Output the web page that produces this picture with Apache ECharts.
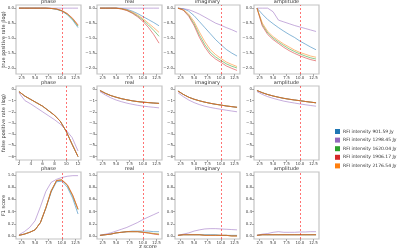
<!DOCTYPE html>
<html>
<head>
<meta charset="utf-8">
<style>
  html, body { margin: 0; padding: 0; background: #fff; }
  #chart { width: 400px; height: 251px; }
</style>
<script src="https://cdn.jsdelivr.net/npm/echarts@6/dist/echarts.min.js"></script>
</head>
<body>
<div id="chart"></div>
<script>
// z scores
const zScores = [2, 3, 4, 5, 6, 7, 8, 9, 10, 11, 12, 13];
const zScoresPhaseFpr = [2, 3, 4, 5, 6, 7, 8, 9, 10, 11, 12];

const seriesNames = ['RFI intensity 901.59 Jy', 'RFI intensity 1298.45 Jy', 'RFI intensity 1620.04 Jy',
  'RFI intensity 1906.17 Jy', 'RFI intensity 2176.54 Jy'];
const colors = ['#1f77b4', '#9467bd', '#2ca02c', '#d62728', '#ff7f0e'];
const panelTitles = ['phase', 'real', 'imaginary', 'amplitude'];
const rowLabels = ['true positive rate (log)', 'false positive rate (log)', 'F1 score'];

// tick labels
const zTicks = [2.5, 5, 7.5, 10, 12.5];
const zTicksPhaseFpr = [2, 4, 6, 8, 10, 12];
const tprTicks = [0, -0.5, -1, -1.5, -2];
const fprTicks = [0, -1, -2, -3, -4, -5, -6];
const f1Ticks = [0, 0.2, 0.4, 0.6, 0.8, 1.0];
const threshold = 10;

// true positive rate (log), series order = legend order
const tprPhase = [
  [0, 0, 0, 0, 0, 0, -0.01, -0.04, -0.1, -0.22, -0.4, -0.65],
  [0, 0, 0, 0, 0, 0, 0, 0, 0, 0, 0, 0],
  [0, 0, 0, 0, 0, 0, -0.01, -0.03, -0.09, -0.2, -0.37, -0.6],
  [0, 0, 0, 0, 0, 0, -0.01, -0.03, -0.08, -0.18, -0.34, -0.56],
  [0, 0, 0, 0, 0, 0, -0.01, -0.03, -0.09, -0.19, -0.35, -0.58]
];
const tprReal = [
  [0, 0, 0, 0, -0.01, -0.04, -0.1, -0.18, -0.28, -0.38, -0.48, -0.59],
  [0, 0, 0, 0, 0, 0, 0, 0, 0, 0, 0, 0],
  [0, 0, 0, 0, -0.02, -0.07, -0.15, -0.26, -0.39, -0.56, -0.74, -0.94],
  [0, 0, 0, 0, -0.03, -0.08, -0.17, -0.29, -0.44, -0.64, -0.88, -1.17],
  [0, 0, 0, 0, -0.02, -0.06, -0.13, -0.23, -0.35, -0.5, -0.65, -0.81]
];
const tprImag = [
  [0, -0.02, -0.1, -0.25, -0.45, -0.65, -0.85, -1.05, -1.22, -1.38, -1.5, -1.6],
  [0, -0.02, -0.05, -0.12, -0.2, -0.3, -0.4, -0.5, -0.57, -0.65, -0.72, -0.8],
  [0, -0.06, -0.24, -0.52, -0.9, -1.22, -1.47, -1.63, -1.75, -1.86, -1.94, -2.0],
  [0, -0.07, -0.27, -0.58, -0.98, -1.3, -1.55, -1.7, -1.81, -1.93, -2.01, -2.08],
  [0, -0.05, -0.2, -0.45, -0.8, -1.12, -1.38, -1.55, -1.68, -1.8, -1.88, -1.95]
];
const tprAmp = [
  [0, -0.2, -0.38, -0.52, -0.65, -0.77, -0.88, -0.98, -1.1, -1.2, -1.3, -1.39],
  [0, 0, 0, -0.12, -0.4, -0.46, -0.52, -0.58, -0.63, -0.68, -0.73, -0.78],
  [0, -0.55, -0.83, -1.0, -1.13, -1.25, -1.36, -1.45, -1.53, -1.6, -1.66, -1.7],
  [0, -0.6, -0.88, -1.05, -1.18, -1.31, -1.42, -1.51, -1.59, -1.66, -1.72, -1.76],
  [0, -0.5, -0.78, -0.95, -1.08, -1.2, -1.3, -1.4, -1.48, -1.54, -1.6, -1.64]
];

// false positive rate (log)
const fprPhaseMain = [-0.2, -0.6, -0.9, -1.2, -1.5, -1.9, -2.3, -2.85, -3.75, -4.9, -6.0];
const fprPhasePurple = [-0.3, -1.0, -1.3, -1.65, -2.0, -2.35, -2.7, -3.1, -3.65, -4.3, -5.5];
const fprRealMain = [-0.1, -0.35, -0.55, -0.7, -0.83, -0.93, -1.02, -1.09, -1.14, -1.18, -1.22, -1.25];
const fprRealPurple = [-0.2, -0.5, -0.75, -0.95, -1.1, -1.23, -1.33, -1.42, -1.49, -1.55, -1.6, -1.65];
const fprImagMain = [-0.15, -0.45, -0.7, -0.88, -1.02, -1.14, -1.24, -1.33, -1.4, -1.48, -1.54, -1.6];
const fprImagPurple = [-0.3, -0.65, -0.95, -1.18, -1.36, -1.5, -1.61, -1.7, -1.78, -1.86, -1.93, -2.0];
const fprAmpMain = [-0.1, -0.3, -0.46, -0.59, -0.7, -0.8, -0.88, -0.95, -1.01, -1.08, -1.14, -1.2];
const fprAmpPurple = [-0.2, -0.45, -0.65, -0.8, -0.93, -1.05, -1.14, -1.22, -1.3, -1.37, -1.44, -1.5];

// F1 score
const f1Phase = [
  [0.01, 0.03, 0.06, 0.1, 0.22, 0.45, 0.72, 0.89, 0.9, 0.8, 0.62, 0.36],
  [0.02, 0.07, 0.14, 0.25, 0.48, 0.73, 0.88, 0.93, 0.96, 0.98, 0.99, 0.99],
  [0.01, 0.03, 0.06, 0.1, 0.22, 0.46, 0.74, 0.91, 0.92, 0.83, 0.66, 0.43],
  [0.01, 0.03, 0.06, 0.1, 0.22, 0.46, 0.74, 0.91, 0.92, 0.84, 0.67, 0.44],
  [0.01, 0.03, 0.06, 0.1, 0.22, 0.46, 0.74, 0.91, 0.92, 0.84, 0.67, 0.44]
];
const f1Real = [
  [0.01, 0.02, 0.03, 0.05, 0.06, 0.07, 0.08, 0.08, 0.08, 0.08, 0.07, 0.07],
  [0.01, 0.03, 0.05, 0.08, 0.11, 0.14, 0.18, 0.22, 0.27, 0.31, 0.35, 0.39],
  [0.01, 0.02, 0.03, 0.05, 0.06, 0.07, 0.07, 0.07, 0.06, 0.05, 0.04, 0.03],
  [0.01, 0.02, 0.03, 0.05, 0.06, 0.07, 0.07, 0.07, 0.06, 0.05, 0.03, 0.02],
  [0.01, 0.02, 0.03, 0.05, 0.06, 0.07, 0.07, 0.07, 0.06, 0.05, 0.04, 0.03]
];
const f1Imag = [
  [0.01, 0.02, 0.02, 0.02, 0.02, 0.02, 0.02, 0.02, 0.01, 0.01, 0.01, 0.01],
  [0.01, 0.03, 0.05, 0.08, 0.1, 0.115, 0.12, 0.12, 0.115, 0.11, 0.105, 0.1],
  [0.01, 0.02, 0.02, 0.02, 0.02, 0.01, 0.01, 0.01, 0.01, 0.01, 0.0, 0.0],
  [0.01, 0.02, 0.02, 0.02, 0.02, 0.01, 0.01, 0.01, 0.01, 0.01, 0.0, 0.0],
  [0.01, 0.02, 0.02, 0.02, 0.02, 0.01, 0.01, 0.01, 0.01, 0.01, 0.0, 0.0]
];
const f1Amp = [
  [0.01, 0.02, 0.02, 0.02, 0.02, 0.02, 0.02, 0.02, 0.02, 0.02, 0.02, 0.02],
  [0.01, 0.03, 0.04, 0.06, 0.07, 0.06, 0.06, 0.06, 0.065, 0.065, 0.07, 0.07],
  [0.01, 0.02, 0.02, 0.02, 0.02, 0.02, 0.02, 0.02, 0.02, 0.02, 0.02, 0.02],
  [0.01, 0.02, 0.02, 0.02, 0.02, 0.02, 0.02, 0.02, 0.02, 0.02, 0.02, 0.02],
  [0.01, 0.02, 0.02, 0.02, 0.02, 0.02, 0.02, 0.02, 0.02, 0.02, 0.02, 0.02]
];

const fprSet = (main, purple) => [main, purple, main, main, main];
const panels = [
  [tprPhase, tprReal, tprImag, tprAmp],
  [fprSet(fprPhaseMain, fprPhasePurple), fprSet(fprRealMain, fprRealPurple),
   fprSet(fprImagMain, fprImagPurple), fprSet(fprAmpMain, fprAmpPurple)],
  [f1Phase, f1Real, f1Imag, f1Amp]
];

const colLeft = [16, 97, 175, 254];
const colWidth = 65;
const rowTop = [5, 86, 172];
const rowHeight = [69, 74, 67];
const yRange = [[-2.2, 0.105], [-6.3, 0.3], [-0.05, 1.05]];
const yTickSets = [tprTicks, fprTicks, f1Ticks];
const yFmt = [v => v.toFixed(1), v => String(v), v => v.toFixed(1)];

const minus = s => s.replace('-', '\u2212');
const font = 'DejaVu Sans';

const grids = [], xAxes = [], yAxes = [], series = [], graphics = [];

panels.forEach((row, r) => {
  row.forEach((sets, c) => {
    const idx = grids.length;
    const phaseFpr = r === 1 && c === 0;
    const xsUsed = phaseFpr ? zScoresPhaseFpr : zScores;
    grids.push({
      left: colLeft[c], top: rowTop[r], width: colWidth, height: rowHeight[r],
      show: true, borderColor: '#c4c4c4', borderWidth: 1.2, backgroundColor: '#fff'
    });
    xAxes.push({
      type: 'value', gridIndex: idx, position: 'bottom',
      min: phaseFpr ? 1.5 : 1.45, max: phaseFpr ? 12.5 : 13.55,
      splitLine: { show: false }, axisLine: { show: false, onZero: false },
      axisTick: { show: true, length: 2, lineStyle: { color: '#777', width: 0.6 },
        customValues: phaseFpr ? zTicksPhaseFpr : zTicks },
      axisLabel: { fontSize: 4, color: '#444', fontFamily: font, margin: 2,
        customValues: phaseFpr ? zTicksPhaseFpr : zTicks,
        formatter: v => phaseFpr ? String(v) : v.toFixed(1) }
    });
    yAxes.push({
      type: 'value', gridIndex: idx, position: 'left', min: yRange[r][0], max: yRange[r][1],
      splitLine: { show: false }, axisLine: { show: false, onZero: false },
      axisTick: { show: true, length: 2, lineStyle: { color: '#777', width: 0.6 },
        customValues: yTickSets[r] },
      axisLabel: { fontSize: 4, color: '#444', fontFamily: font, margin: 2,
        customValues: yTickSets[r], formatter: v => minus(yFmt[r](v)) }
    });
    sets.forEach((vals, s) => {
      const item = {
        name: seriesNames[s], type: 'line', xAxisIndex: idx, yAxisIndex: idx,
        data: vals.map((v, i) => [xsUsed[i], v]),
        showSymbol: false, symbol: 'none', silent: true, animation: false,
        lineStyle: { color: colors[s], width: 0.9, opacity: 0.6 },
        itemStyle: { color: colors[s] }
      };
      if (s === sets.length - 1) {
        item.markLine = {
          silent: true, symbol: 'none', animation: false, label: { show: false },
          lineStyle: { color: '#ff0000', type: [2, 2], width: 1, opacity: 0.55 },
          data: [{ xAxis: threshold }]
        };
      }
      series.push(item);
    });
    graphics.push({
      type: 'text', x: colLeft[c] + colWidth / 2, y: rowTop[r] - 3,
      style: { text: panelTitles[c], fontSize: 5, fill: '#333', fontFamily: font,
        align: 'center', verticalAlign: 'middle' }
    });
  });
  graphics.push({
    type: 'text', x: 4, y: rowTop[r] + rowHeight[r] / 2, rotation: Math.PI / 2,
    style: { text: rowLabels[r], fontSize: 5, fill: '#333', fontFamily: font,
      align: 'center', verticalAlign: 'middle' }
  });
});

// shared x label
graphics.push({
  type: 'text', x: 148, y: 247,
  style: { text: 'z score', fontSize: 5, fill: '#333', fontFamily: font, align: 'center', verticalAlign: 'middle' }
});

const chart = echarts.init(document.getElementById('chart'));
chart.setOption({
  animation: false,
  backgroundColor: '#fff',
  grid: grids,
  xAxis: xAxes,
  yAxis: yAxes,
  series: series,
  graphic: graphics,
  legend: {
    data: seriesNames.map((n, i) => ({ name: n, itemStyle: { color: colors[i], opacity: 1 } })),
    orient: 'vertical', left: 330, top: 124,
    icon: 'rect', itemWidth: 5, itemHeight: 5, itemGap: 3.6,
    textStyle: { fontSize: 4.5, color: '#333', fontFamily: font, padding: [0, 0, 0, -2] }
  }
});
</script>
</body>
</html>
